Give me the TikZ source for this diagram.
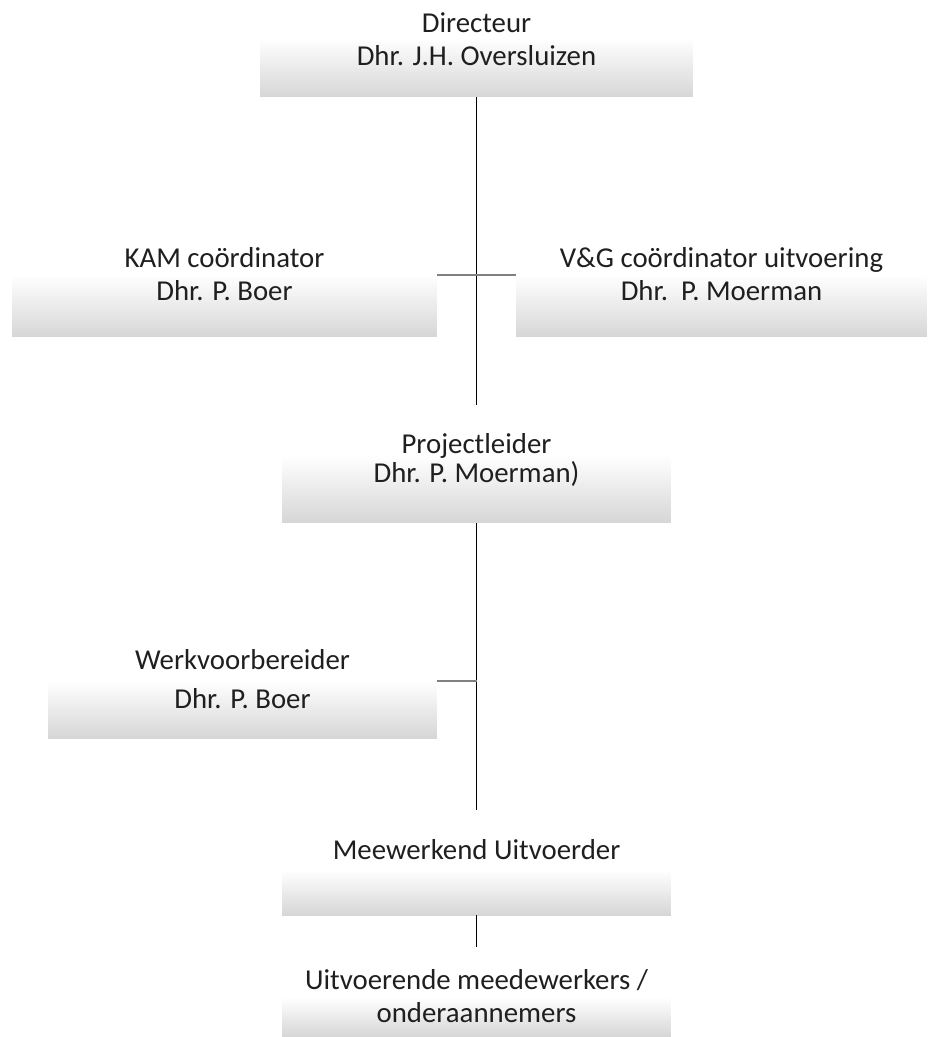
\documentclass[tikz,border=0pt]{standalone}
\usepackage{fontspec}
\setmainfont{Carlito}
\usepackage{tikz}
\usetikzlibrary{shapes}
\usetikzlibrary{calc}

\definecolor{boxgray}{RGB}{214,214,214}
\definecolor{linegray}{RGB}{128,128,128}

\begin{document}
\begin{tikzpicture}[x=0.02cm,y=-0.02cm]

                \tikzset{box/.style = {shape=rectangle,inner sep=0pt,top color=white,bottom color=boxgray,draw=none}}
                \tikzset{txt/.style = {inner sep=0pt,align=center,text=black!88,font=\fontsize{16.4}{19}\selectfont}}
                \tikzset{vline/.style = {draw=black,line width=0.6pt}}
                \tikzset{hline/.style = {draw=linegray,line width=1pt}}

                \useasboundingbox (0,0) rectangle (927,1037);

                % shaded boxes
                \node[box,minimum width=8.66cm,minimum height=1.18cm] (dirbox) at (476.5,67.5) {};
                \node[box,minimum width=8.5cm,minimum height=1.24cm] (kambox) at (224.5,306) {};
                \node[box,minimum width=8.22cm,minimum height=1.24cm] (vgbox) at (721.5,306) {};
                \node[box,minimum width=7.78cm,minimum height=1.36cm] (projbox) at (476.5,489) {};
                \node[box,minimum width=7.78cm,minimum height=1.14cm] (werkbox) at (242.5,709.5) {};
                \node[box,minimum width=7.78cm,minimum height=0.9cm] (meebox) at (476.5,892.5) {};
                \node[box,minimum width=7.78cm,minimum height=0.8cm] (uitbox) at (476.5,1017) {};

                \coordinate (dirend) at (476.5,405);
                \coordinate (projend) at (476.5,810);
                \coordinate (meeend) at (476.5,947);

                % lines
                \draw[vline] (dirbox.south) -- (dirend);
                \draw[hline] (kambox.north east) -- (vgbox.north west);
                \draw[vline] (projbox.south) -- (projend);
                \draw[hline] (werkbox.north east) -- (werkbox.north east -| projbox.south);
                \draw[vline] (meebox.south) -- (meeend);

                % texts
                \node[txt] (dir) at (476.5,39) {Directeur\\Dhr. J.H. Oversluizen};
                \node[txt] (kam) at (224.5,274) {KAM coördinator\\Dhr. P. Boer};
                \node[txt] (vg) at (721.5,274) {V\&G coördinator uitvoering\\Dhr.\ \ P. Moerman};
                \node[txt] (proj) at (476.5,460) {Projectleider\\[-2pt]Dhr. P. Moerman)};
                \node[txt] (werk) at (242.5,679) {Werkvoorbereider\\[3pt]Dhr. P. Boer};
                \node[txt] (mee) at (476.5,850) {Meewerkend Uitvoerder};
                \node[txt] (uit) at (476.5,996) {Uitvoerende meedewerkers /\\onderaannemers};

\end{tikzpicture}
\end{document}
